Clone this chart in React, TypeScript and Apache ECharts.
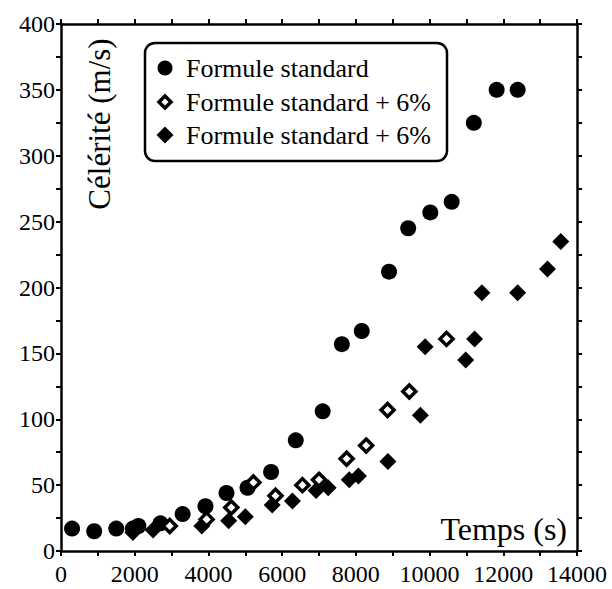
import React, { useEffect, useRef } from "react";
import * as echarts from "echarts";

// Legend / series labels
const legendLabels = ["Formule standard", "Formule standard + 6%", "Formule standard + 6%"];
const xTitle = "Temps (s)";
const yTitle = "Célérité (m/s)";

// Axis ranges (tick labels generated from these)
const xRange = { min: 0, max: 14000, step: 2000 };
const yRange = { min: 0, max: 400, step: 50 };

// Series values [temps (s), célérité (m/s)]
const standard: [number, number][] = [
  [300, 17], [900, 15], [1500, 17], [1950, 17], [2100, 19], [2700, 21],
  [3300, 28], [3920, 34], [4490, 44], [5060, 48], [5700, 60], [6370, 84],
  [7100, 106], [7620, 157], [8160, 167], [8900, 212], [9420, 245],
  [10020, 257], [10600, 265], [11200, 325], [11820, 350], [12390, 350],
];

const plus6Filled: [number, number][] = [
  [1950, 14], [2500, 16], [3820, 19], [4550, 23], [5000, 26], [5730, 35],
  [6280, 38], [6920, 46], [7250, 48], [7820, 54], [8070, 57], [8870, 68],
  [9750, 103], [9880, 155], [10980, 145], [11220, 161], [11420, 196],
  [12390, 196], [13200, 214], [13560, 235],
];

const plus6Open: [number, number][] = [
  [2950, 19], [3950, 24], [4620, 33], [5220, 52], [5820, 42], [6550, 50],
  [7000, 54], [7750, 70], [8280, 80], [8860, 107], [9450, 121], [10460, 161],
];

const FONT = "Liberation Serif, serif";

export default function App() {
  const ref = useRef<HTMLDivElement>(null);

  useEffect(() => {
    if (!ref.current) return;
    const chart = echarts.init(ref.current, null, { renderer: "svg" });

    const lineStyle = { color: "#000", width: 2.5 };
    const tickStyle = { color: "#000", width: 2 };
    const plain = (v: number) => String(v);

    const makeX = (position: "bottom" | "top", showLabel: boolean) => ({
      type: "value",
      position,
      min: xRange.min,
      max: xRange.max,
      interval: xRange.step,
      axisLine: { show: true, onZero: false, lineStyle },
      axisTick: { show: true, inside: false, length: 5, lineStyle: tickStyle },
      minorTick: { show: true, splitNumber: 2, length: 5, lineStyle: tickStyle },
      splitLine: { show: false },
      minorSplitLine: { show: false },
      axisLabel: {
        show: showLabel,
        color: "#000",
        fontFamily: FONT,
        fontSize: 24,
        fontWeight: "normal",
        margin: 11,
        formatter: plain,
      },
    });

    const makeY = (position: "left" | "right", showLabel: boolean) => ({
      type: "value",
      position,
      min: yRange.min,
      max: yRange.max,
      interval: yRange.step,
      axisLine: { show: true, onZero: false, lineStyle },
      axisTick: { show: true, inside: false, length: 5, lineStyle: tickStyle },
      minorTick: { show: true, splitNumber: 2, length: 5, lineStyle: tickStyle },
      splitLine: { show: false },
      minorSplitLine: { show: false },
      axisLabel: {
        show: showLabel,
        color: "#000",
        fontFamily: FONT,
        fontSize: 24,
        fontWeight: "normal",
        margin: 6,
        formatter: plain,
      },
    });

    const legendRows = [68, 102, 135];
    const legendX = 165;

    chart.setOption({
      animation: false,
      backgroundColor: "#fff",
      textStyle: { fontFamily: FONT, color: "#000" },
      grid: { left: 61, right: 35, top: 24, bottom: 38, containLabel: false },
      xAxis: [makeX("bottom", true), makeX("top", false)],
      yAxis: [makeY("left", true), makeY("right", false)],
      series: [
        {
          name: legendLabels[0],
          type: "scatter",
          xAxisIndex: 0,
          yAxisIndex: 0,
          symbol: "circle",
          symbolSize: 16,
          itemStyle: { color: "#000", opacity: 1 },
          data: standard,
          z: 2,
        },
        {
          name: legendLabels[2],
          type: "scatter",
          xAxisIndex: 0,
          yAxisIndex: 0,
          symbol: "diamond",
          symbolSize: 17,
          itemStyle: { color: "#000", opacity: 1 },
          data: plus6Filled,
          z: 3,
        },
        {
          name: legendLabels[1],
          type: "scatter",
          xAxisIndex: 0,
          yAxisIndex: 0,
          symbol: "diamond",
          symbolSize: 13,
          itemStyle: { color: "#fff", borderColor: "#000", borderWidth: 3.5, opacity: 1 },
          data: plus6Open,
          z: 4,
        },
      ],
      graphic: [
        {
          type: "rect",
          shape: { x: 145, y: 43, width: 302, height: 118, r: 10 },
          style: { fill: "#fff", stroke: "#000", lineWidth: 2.5 },
          z: 10,
        },
        {
          type: "circle",
          shape: { cx: legendX, cy: legendRows[0], r: 7.5 },
          style: { fill: "#000" },
          z: 11,
        },
        {
          type: "polygon",
          shape: {
            points: [
              [legendX, legendRows[1] - 6],
              [legendX + 6, legendRows[1]],
              [legendX, legendRows[1] + 6],
              [legendX - 6, legendRows[1]],
            ],
          },
          style: { fill: "#fff", stroke: "#000", lineWidth: 3.5 },
          z: 11,
        },
        {
          type: "polygon",
          shape: {
            points: [
              [legendX, legendRows[2] - 8.5],
              [legendX + 8.5, legendRows[2]],
              [legendX, legendRows[2] + 8.5],
              [legendX - 8.5, legendRows[2]],
            ],
          },
          style: { fill: "#000" },
          z: 11,
        },
        ...legendLabels.map((t, i) => ({
          type: "text",
          x: 186,
          y: legendRows[i],
          style: {
            text: t,
            fill: "#000",
            fontFamily: FONT,
            fontSize: 26,
            align: "left",
            verticalAlign: "middle",
          },
          z: 11,
        })),
        {
          type: "text",
          x: 99,
          y: 124,
          rotation: Math.PI / 2,
          style: {
            text: yTitle,
            fill: "#000",
            fontFamily: FONT,
            fontSize: 31,
            align: "center",
            verticalAlign: "middle",
          },
          z: 11,
        },
        {
          type: "text",
          x: 567,
          y: 529,
          style: {
            text: xTitle,
            fill: "#000",
            fontFamily: FONT,
            fontSize: 32,
            align: "right",
            verticalAlign: "middle",
          },
          z: 11,
        },
      ],
    });

    return () => chart.dispose();
  }, []);

  return (
    <div
      ref={ref}
      style={{ position: "absolute", left: 0, top: 0, width: 612, height: 589, background: "#fff" }}
    />
  );
}
